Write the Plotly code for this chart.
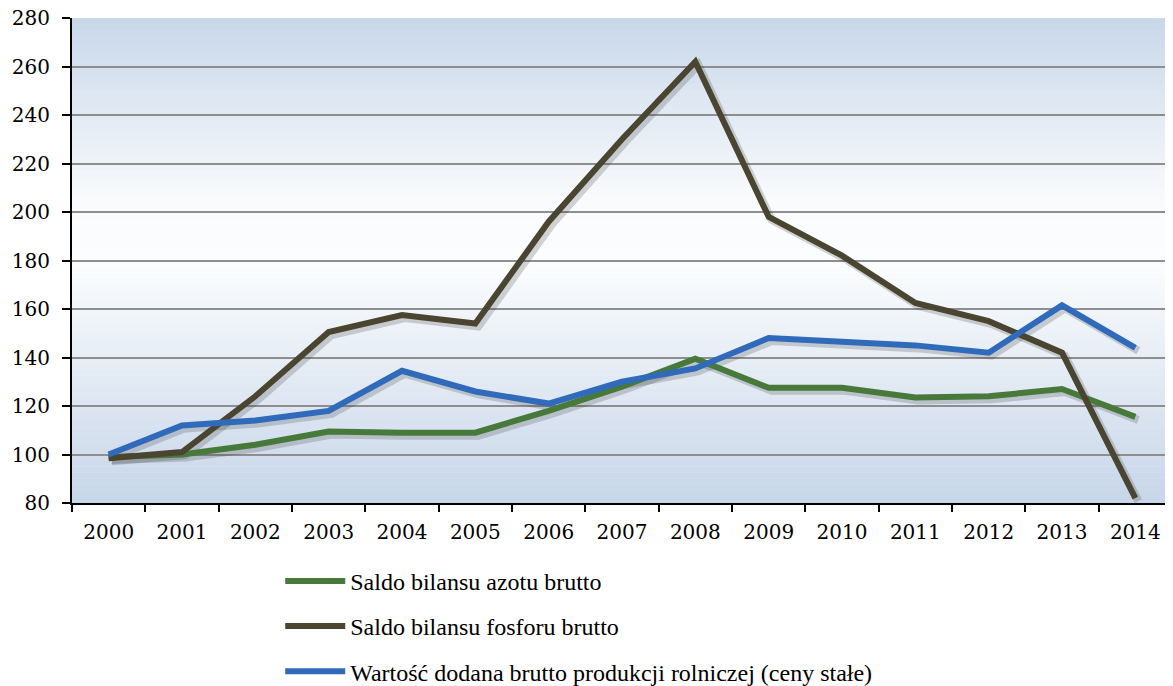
import plotly.graph_objects as go

years = [str(y) for y in range(2000, 2015)]
azot = [99, 100, 104, 109.5, 109, 109, 118, 128, 139.5, 127.5, 127.5, 123.5, 124, 127, 115.5]
fosfor = [98.5, 101, 124, 150.5, 157.5, 154, 196, 230, 262, 198, 182, 162.5, 155, 142, 82]
wartosc = [100, 112, 114, 118, 134.5, 126, 121, 130, 135.5, 148, 146.5, 145, 142, 161.5, 144]

names = ["Saldo bilansu azotu brutto",
         "Saldo bilansu fosforu brutto",
         "Wartość dodana brutto produkcji rolniczej (ceny stałe)"]
colors = ["#47793a", "#4a4531", "#2f6bba"]
series = [azot, fosfor, wartosc]

FONT = "Liberation Serif"
TICKFONT = "DejaVu Serif"

XR = [-0.5, 14.5]
YR = [80, 280]
# drop-shadow offset in pixels (plot area is 1100 x 485 px)
SX, SY = 3, 3
dx = SX / 1100 * (XR[1] - XR[0])
dy = SY / 485 * (YR[1] - YR[0])

fig = go.Figure()
# invisible trace on the base axes so the category axis carries its labels
fig.add_trace(go.Scatter(x=years, y=azot, mode="lines", line=dict(color="rgba(0,0,0,0)", width=0),
                         showlegend=False, hoverinfo="skip"))
# shadows
for vals in series:
    fig.add_trace(go.Scatter(x=years, y=vals, mode="lines", xaxis="x2", yaxis="y2",
                             line=dict(color="rgba(60,60,60,0.22)", width=8),
                             showlegend=False, hoverinfo="skip"))
# main lines
for i, (nm, col, vals) in enumerate(zip(names, colors, series)):
    fig.add_trace(go.Scatter(
        x=years, y=vals, mode="lines", name=nm, xaxis="x3", yaxis="y3",
        line=dict(color=col, width=6), legendgroup=f"g{i}",
    ))

# gradient background bands
stops = [(0.0, (199, 214, 233)), (0.5, (252, 253, 254)), (0.62, (250, 251, 253)), (1.0, (200, 215, 233))]
def col_at(t):
    for (a, ca), (b, cb) in zip(stops[:-1], stops[1:]):
        if a <= t <= b:
            f = (t - a) / (b - a)
            return tuple(round(ca[k] + (cb[k] - ca[k]) * f) for k in range(3))
    return stops[-1][1]

N = 80
shapes = []
for k in range(N):
    y0 = k / N
    y1 = (k + 1) / N + 0.001
    c = col_at((k + 0.5) / N)
    shapes.append(dict(type="rect", xref="paper", yref="paper", x0=0, x1=1, y0=y0, y1=min(y1, 1),
                       fillcolor=f"rgb({c[0]},{c[1]},{c[2]})", line=dict(width=0), layer="below"))

hidden = dict(visible=False, showgrid=False, zeroline=False, fixedrange=True)

fig.update_layout(
    width=1173, height=686,
    margin=dict(l=64, r=9, t=10, b=191, autoexpand=False),
    paper_bgcolor="white", plot_bgcolor="white",
    shapes=shapes,
    font=dict(family=FONT, size=22, color="black"),
    showlegend=True,
    legend=dict(orientation="v", x=0.1893, xanchor="left", y=-0.115, yanchor="top",
                font=dict(family=FONT, size=24, color="black"),
                traceorder="grouped", tracegroupgap=11, itemwidth=60,
                bgcolor="rgba(0,0,0,0)"),
    xaxis=dict(type="category", tickson="boundaries", ticks="outside", ticklen=7, tickwidth=2,
               tickcolor="black", showgrid=False, showline=True, linecolor="black", linewidth=2,
               range=XR, tickfont=dict(family=TICKFONT, size=20), automargin=False,
               ticklabelstandoff=10, ticklabeloverflow="allow"),
    yaxis=dict(range=YR, dtick=20, ticks="outside", ticklen=8, tickwidth=2, tickcolor="black",
               showgrid=True, gridcolor="#8e8e8e", gridwidth=2, showline=True, linecolor="black",
               linewidth=2, zeroline=False, tickfont=dict(family=TICKFONT, size=20), automargin=False,
               ticklabelstandoff=8, ticklabeloverflow="allow"),
    xaxis2=dict(type="category", overlaying="x", range=[XR[0] - dx, XR[1] - dx], **hidden),
    yaxis2=dict(overlaying="y", range=[YR[0] + dy, YR[1] + dy], **hidden),
    xaxis3=dict(type="category", overlaying="x", range=XR, **hidden),
    yaxis3=dict(overlaying="y", range=YR, **hidden),
)

fig.write_html("out.html")
